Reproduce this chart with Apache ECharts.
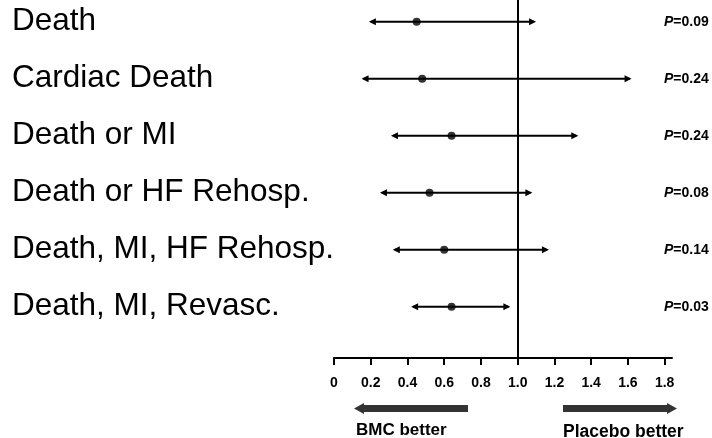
<!DOCTYPE html>
<html>
<head>
<meta charset="utf-8" />
<script src="https://cdn.jsdelivr.net/npm/echarts@6/dist/echarts.min.js"></script>
<style>
  html, body { margin: 0; padding: 0; background: #fff; }
  #chart { width: 712px; height: 438px; }
</style>
</head>
<body>
<div id="chart"></div>
<script>
const outcomes = [
  "Death",
  "Cardiac Death",
  "Death or MI",
  "Death or HF Rehosp.",
  "Death, MI, HF Rehosp.",
  "Death, MI, Revasc.",
];
const lower = [0.19, 0.15, 0.31, 0.25, 0.32, 0.42];
const estimate = [0.45, 0.48, 0.64, 0.52, 0.6, 0.64];
const upper = [1.1, 1.62, 1.33, 1.08, 1.17, 0.96];
const pValues = ["0.09", "0.24", "0.24", "0.08", "0.14", "0.03"];
const xTicks = [0, 0.2, 0.4, 0.6, 0.8, 1.0, 1.2, 1.4, 1.6, 1.8];
const rows = outcomes.map((m, i) => i);

const font = "Liberation Sans, Arial, sans-serif";

const option = {
  animation: false,
  backgroundColor: "#fff",
  grid: {
    left: 334,
    right: 40,
    top: 0,
    bottom: 80,
    outerBoundsMode: "none",
  },
  xAxis: {
    type: "value",
    min: 0,
    max: 1.84,
    splitLine: { show: false },
    axisLine: { show: true, onZero: false, lineStyle: { color: "#000", width: 2 } },
    axisTick: {
      show: true,
      length: 7,
      customValues: xTicks,
      lineStyle: { color: "#000", width: 2 },
    },
    axisLabel: {
      customValues: xTicks,
      margin: 18,
      color: "#000",
      fontFamily: font,
      fontWeight: "bold",
      fontSize: 14,
      formatter: (v) => (v === 0 ? "0" : v.toFixed(1)),
    },
  },
  yAxis: [
    {
      type: "value",
      inverse: true,
      min: -0.38,
      max: 5.9,
      splitLine: { show: false },
      axisLine: { show: false },
      axisTick: { show: false },
      axisLabel: {
        customValues: rows,
        align: "left",
        margin: 322,
        padding: [0, 0, 15, 0],
        color: "#000",
        fontFamily: font,
        fontSize: 31.5,
        formatter: (v) => outcomes[v],
      },
    },
    {
      type: "value",
      inverse: true,
      position: "right",
      min: -0.38,
      max: 5.9,
      splitLine: { show: false },
      axisLine: { show: false },
      axisTick: { show: false },
      axisLabel: {
        customValues: rows,
        align: "left",
        margin: -8,
        formatter: (v) => `{i|P}{b|=${pValues[v]}}`,
        rich: {
          i: { fontFamily: font, fontSize: 14, fontWeight: "bold", fontStyle: "italic", color: "#000" },
          b: { fontFamily: font, fontSize: 14, fontWeight: "bold", color: "#000" },
        },
      },
    },
  ],
  series: [
    {
      // 置信区间，两端带箭头
      name: "ci",
      type: "custom",
      data: rows.map((i) => [lower[i], upper[i], i]),
      encode: { x: [0, 1], y: 2 },
      renderItem: function (params, api) {
        const a = api.coord([api.value(0), api.value(2)]);
        const b = api.coord([api.value(1), api.value(2)]);
        const hl = 7, hw = 3.5;
        return {
          type: "group",
          children: [
            {
              type: "line",
              shape: { x1: a[0] + 2, y1: a[1], x2: b[0] - 2, y2: b[1] },
              style: { stroke: "#000", lineWidth: 2 },
            },
            {
              type: "polygon",
              shape: { points: [[a[0], a[1]], [a[0] + hl, a[1] - hw], [a[0] + hl, a[1] + hw]] },
              style: { fill: "#000" },
            },
            {
              type: "polygon",
              shape: { points: [[b[0], b[1]], [b[0] - hl, b[1] - hw], [b[0] - hl, b[1] + hw]] },
              style: { fill: "#000" },
            },
          ],
        };
      },
      markLine: {
        silent: true,
        symbol: "none",
        label: { show: false },
        lineStyle: { color: "#000", width: 2, type: "solid" },
        data: [{ xAxis: 1 }],
      },
    },
    {
      name: "estimate",
      type: "scatter",
      data: rows.map((i) => [estimate[i], i]),
      symbol: "circle",
      symbolSize: 8,
      itemStyle: { color: "#000" },
      z: 5,
    },
  ],
  graphic: [
    // 底部方向箭头
    {
      type: "polygon",
      shape: { points: [[354, 408.5], [364, 403], [364, 405], [468, 405], [468, 412], [364, 412], [364, 414]] },
      style: { fill: "#333" },
    },
    {
      type: "polygon",
      shape: { points: [[677, 408.5], [667, 403], [667, 405], [563, 405], [563, 412], [667, 412], [667, 414]] },
      style: { fill: "#333" },
    },
    {
      type: "text",
      left: 356,
      top: 422,
      style: { text: "BMC better", fill: "#000", font: "bold 17px " + font },
    },
    {
      type: "text",
      left: 563,
      top: 423,
      style: { text: "Placebo better", fill: "#000", font: "bold 17.5px " + font },
    },
  ],
};

echarts.init(document.getElementById("chart")).setOption(option);
</script>
</body>
</html>
